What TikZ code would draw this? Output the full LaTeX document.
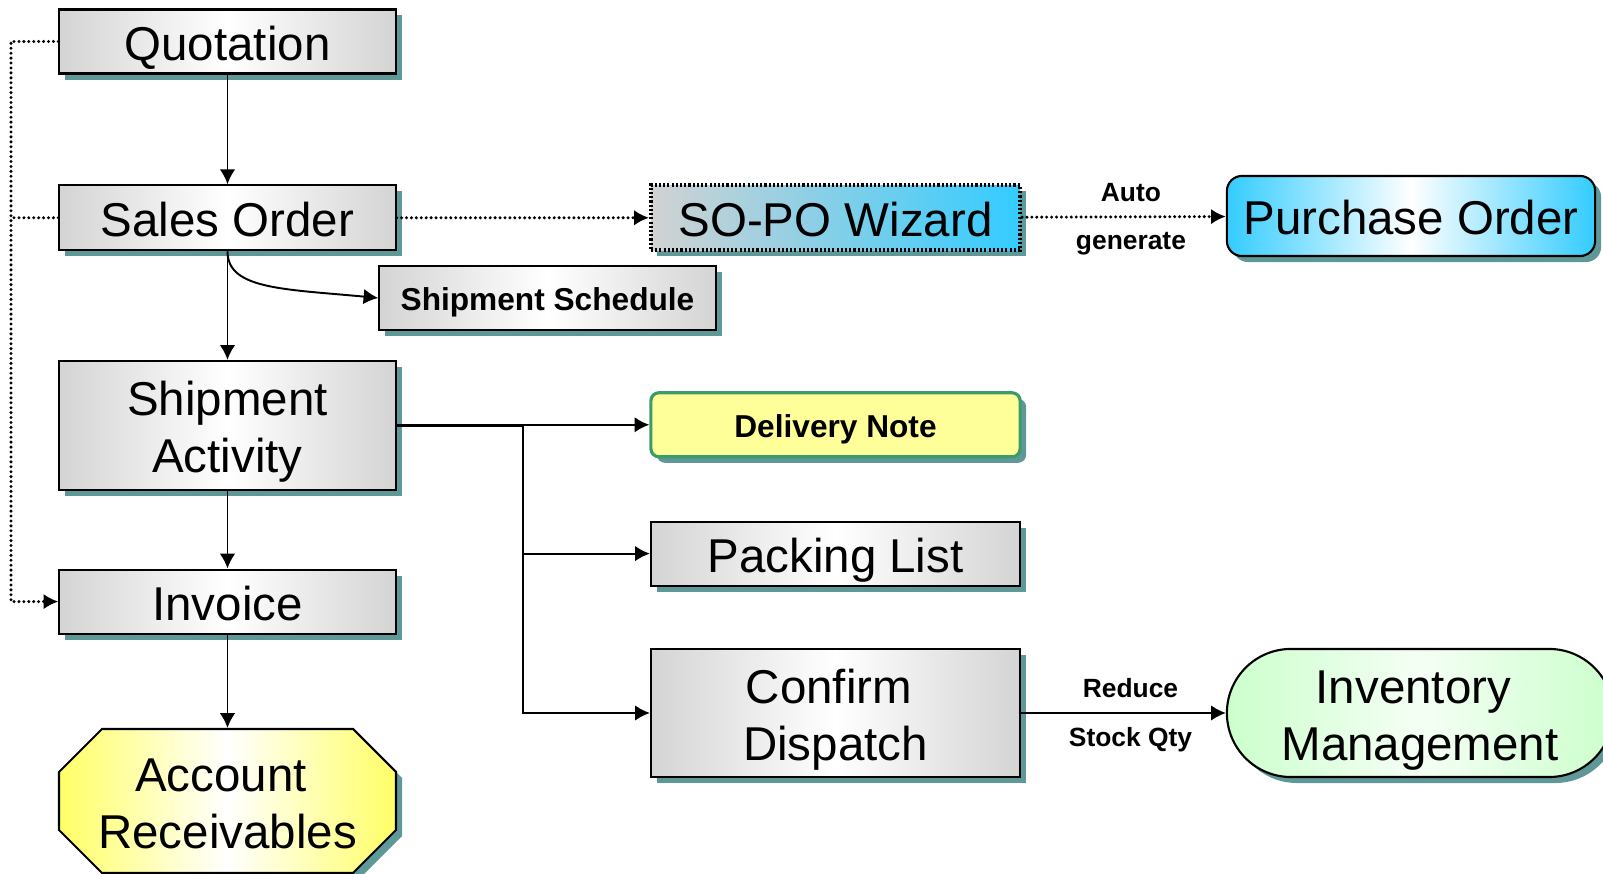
\documentclass[tikz,border=0pt]{standalone}
\usepackage{fontspec}
\setmainfont{Liberation Sans}
\usetikzlibrary{positioning,arrows.meta,shadows,shapes.misc}

\definecolor{shadowteal}{RGB}{95,152,152}
\definecolor{boxgray}{RGB}{212,212,212}
\definecolor{wizgray}{RGB}{210,210,210}
\definecolor{wizcyan}{RGB}{51,204,255}
\definecolor{notefill}{RGB}{255,255,153}
\definecolor{notegreen}{RGB}{60,155,105}
\definecolor{invgreen}{RGB}{204,255,204}
\definecolor{aryellow}{RGB}{255,255,102}

\begin{document}
\begin{tikzpicture}[
     x=0.01cm, y=-0.01cm,
     % define styles
     boxshadow/.style={
         drop shadow={shadow xshift=0.06cm, shadow yshift=-0.06cm,
                      fill=shadowteal, opacity=1}
     },
     boxtext/.style={
         inner sep=0pt, align=center,
         execute at begin node={\rule{0pt}{1em}},
         execute at end node={\rule[-0.2em]{0pt}{0pt}}
     },
     docbox/.style={
         draw, line width=0.6pt, boxshadow, boxtext,
         left color=boxgray, right color=boxgray, middle color=white,
         minimum width=3.36cm, minimum height=0.64cm,
         font=\fontsize{13.5pt}{16.2pt}\selectfont
     },
     wizbox/.style={
         docbox, line width=1.1pt, dash pattern=on 0.6pt off 0.6pt,
         left color=wizgray, right color=wizcyan,
         minimum width=3.69cm, minimum height=0.65cm
     },
     pobox/.style={
         docbox, rounded corners=0.15cm,
         left color=wizcyan, right color=wizcyan, middle color=white,
         minimum width=3.68cm, minimum height=0.8cm
     },
     notebox/.style={
         docbox, rounded corners=0.08cm, draw=notegreen, line width=0.9pt,
         left color=notefill, right color=notefill, middle color=notefill,
         minimum width=3.69cm,
         font=\fontsize{9pt}{10.8pt}\selectfont\bfseries
     },
     invbox/.style={
         docbox, rounded rectangle,
         left color=invgreen, right color=invgreen, middle color=green!4,
         minimum width=3.86cm, minimum height=1.28cm
     },
     lbl/.style={font=\fontsize{7.5pt}{9pt}\selectfont\bfseries},
     dotline/.style={line width=0.95pt, dash pattern=on 0pt off 1.4pt, line cap=round},
     line width=0.55pt,
     >={Latex[length=4.2pt,width=4.4pt]}
]
\useasboundingbox (0,0) rectangle (1603,874);

% left column
\node[docbox] (quot) at (227.5,41.5) {Quotation};
\node[docbox, minimum height=0.65cm] (so) at (227.5,217.8) {Sales Order};
\node[docbox, font=\fontsize{9pt}{10.8pt}\selectfont\bfseries] (ss) at (547.5,298) {Shipment Schedule};
\node[docbox, minimum height=1.29cm] (sa) at (227.5,425.5) {\rule{0pt}{1em}Shipment\\Activity};
\node[docbox] (inv) at (227.5,601.6) {Invoice};

% octagon behind the last node
\draw[line width=0.6pt, boxshadow, left color=aryellow, right color=aryellow, middle color=white]
    (59,772) -- (102,729) -- (353,729) -- (396,772) -- (396,830)
    -- (353,873) -- (102,873) -- (59,830) -- cycle;
\node[boxtext, minimum width=3.37cm, minimum height=1.44cm,
      font=\fontsize{13.5pt}{16.2pt}\selectfont] (ar) at (227.5,801) {\rule{0pt}{1em}Account\kern0.28em\\Receivables};

% middle and right columns
\node[wizbox] (wiz) at (835.5,217.8) {SO-PO Wizard};
\node[pobox] (po) at (1411,216) {Purchase Order};
\node[notebox] (dn) at (835.5,424.8) {Delivery Note};
\node[docbox, minimum width=3.69cm] (pl) at (835.5,553.6) {Packing List};
\node[docbox, minimum width=3.69cm, minimum height=1.28cm] (cd) at (835.5,713) {\rule{0pt}{1em}Confirm\kern0.28em\\Dispatch};
\node[invbox] (invm) at (1420,713) {\rule{0pt}{1em}Inventory\kern0.28em\\Management};

% main flow down the left
\draw[->] (quot) -- (so);
\draw[->] (so) -- (sa);
\draw[->] (sa) -- (inv);
\draw[->] (inv) -- (ar);
\draw[->] (so.south) .. controls +(0,38) and +(-95,-9) .. (ss.west);

% dotted lane on the far left
\coordinate (lane) at (11,0);
\draw[dotline,->] (quot.west) -- (quot.west -| lane) -- (inv.west -| lane) -- (inv.west);
\draw[dotline] (so.west) -- (so.west -| lane);

% wizard to purchase order
\draw[dotline,->] (so) -- (wiz);
\draw[dotline,->] (wiz) -- node[above=0.6pt,lbl,xshift=0.07cm] {Auto}
    node[below=0.6pt,lbl,xshift=0.07cm] {generate} (po);

% shipment documents
\coordinate (trunk) at (523.4,0);
\draw[line width=0.8pt] (sa.east) -- (sa.east -| trunk);
\foreach \doc in {dn,pl,cd}
    \draw[->] (sa.east -| trunk) |- (\doc.west);

\draw[->] (cd) -- node[above=0.6pt,lbl,xshift=0.07cm] {Reduce}
    node[below=0.6pt,lbl,xshift=0.07cm] {Stock Qty} (invm);
\end{tikzpicture}
\end{document}
